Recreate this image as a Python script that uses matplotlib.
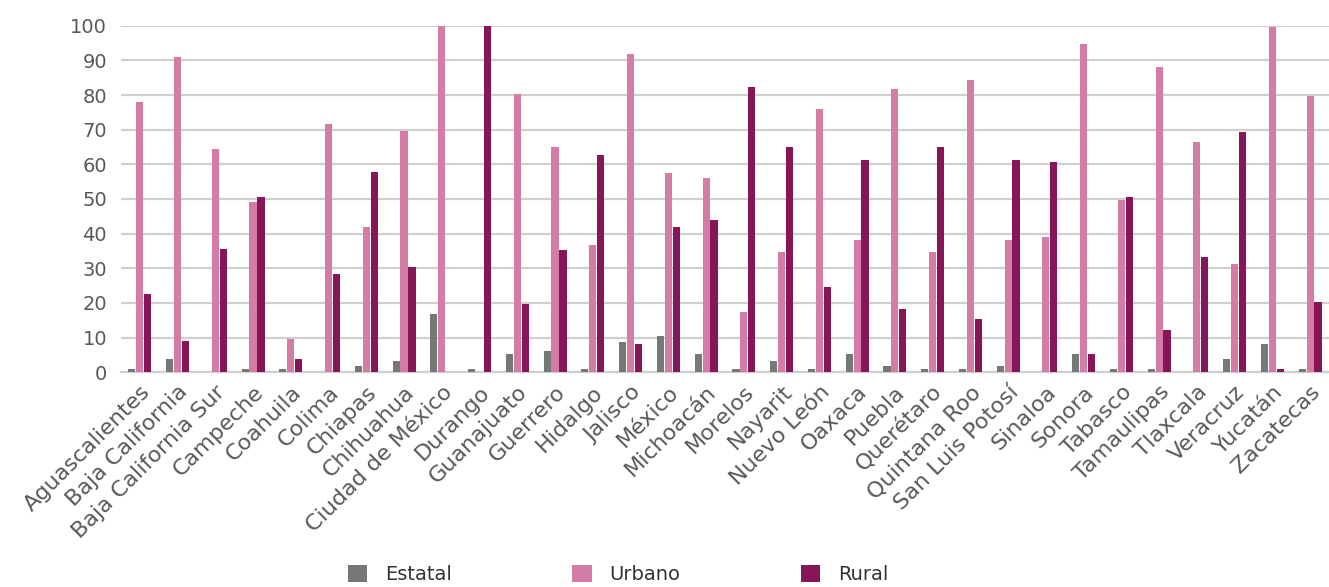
import numpy as np
import matplotlib.pyplot as plt

estados = ['Aguascalientes', 'Baja California', 'Baja California Sur', 'Campeche',
           'Coahuila', 'Colima', 'Chiapas', 'Chihuahua', 'Ciudad de México', 'Durango',
           'Guanajuato', 'Guerrero', 'Hidalgo', 'Jalisco', 'México', 'Michoacán',
           'Morelos', 'Nayarit', 'Nuevo León', 'Oaxaca', 'Puebla', 'Querétaro',
           'Quintana Roo', 'San Luis Potosí', 'Sinaloa', 'Sonora', 'Tabasco',
           'Tamaulipas', 'Tlaxcala', 'Veracruz', 'Yucatán', 'Zacatecas']

estatal = [1.0, 3.8, 0.0, 1.0, 1.0, 0.0, 1.7, 3.1, 16.7, 1.0,
           5.3, 6.1, 1.0, 8.8, 10.3, 5.3, 1.0, 3.1, 1.0, 5.3,
           1.7, 1.0, 1.0, 1.7, 0.0, 5.3, 1.0, 1.0, 0.0, 3.8,
           8.1, 1.0]

urbano = [78.0, 91.0, 64.3, 49.0, 9.7, 71.7, 41.8, 69.5, 100.0, 0.0,
          80.4, 65.0, 36.8, 91.8, 57.6, 56.2, 17.4, 34.8, 75.9, 38.3,
          81.7, 34.7, 84.5, 38.3, 39.0, 94.7, 49.7, 88.2, 66.5, 31.1,
          99.7, 79.6]

rural = [22.5, 9.0, 35.5, 50.5, 3.8, 28.3, 57.7, 30.5, 0.0, 100.0,
         19.6, 35.4, 62.8, 8.1, 41.9, 44.0, 82.3, 65.0, 24.6, 61.2,
         18.3, 64.9, 15.4, 61.3, 60.6, 5.3, 50.5, 12.3, 33.2, 69.4,
         1.0, 20.3]

yticks = list(range(0, 101, 10))

colors = ['#767878', '#d47ca6', '#861657']

fig = plt.figure(figsize=(13.29, 5.87), dpi=100)
ax = fig.add_axes([0.091, 0.366, 0.909, 0.59])

x = np.arange(len(estados))
w = 0.19
ax.bar(x - 0.21, estatal, w, color=colors[0], label='Estatal', zorder=3)
ax.bar(x, urbano, w, color=colors[1], label='Urbano', zorder=3)
ax.bar(x + 0.21, rural, w, color=colors[2], label='Rural', zorder=3)

ax.set_xlim(-0.5, len(estados) - 0.5)
ax.set_ylim(0, 100)
ax.set_yticks(yticks)
ax.set_yticklabels([str(t) for t in yticks], fontsize=14, color='#595959')
ax.set_xticks(x)
ax.set_xticklabels(estados, rotation=45, ha='right', rotation_mode='anchor',
                   fontsize=16, color='#595959')
ax.tick_params(axis='both', length=0)
ax.tick_params(axis='x', pad=7)
ax.tick_params(axis='y', pad=10)

ax.grid(True, axis='y', color='#d0d0d0', linewidth=1.6, zorder=0)
for s in ['top', 'right', 'left']:
    ax.spines[s].set_visible(False)
ax.spines['bottom'].set_color('#d0d0d0')
ax.spines['bottom'].set_linewidth(1.6)

fig.legend(loc='lower center', bbox_to_anchor=(0.465, -0.025), ncol=3, frameon=False,
           fontsize=14, handlelength=1.0, handleheight=1.0, columnspacing=6.2,
           handletextpad=0.9, labelcolor='#333333')

plt.savefig('out.png', dpi=100)
